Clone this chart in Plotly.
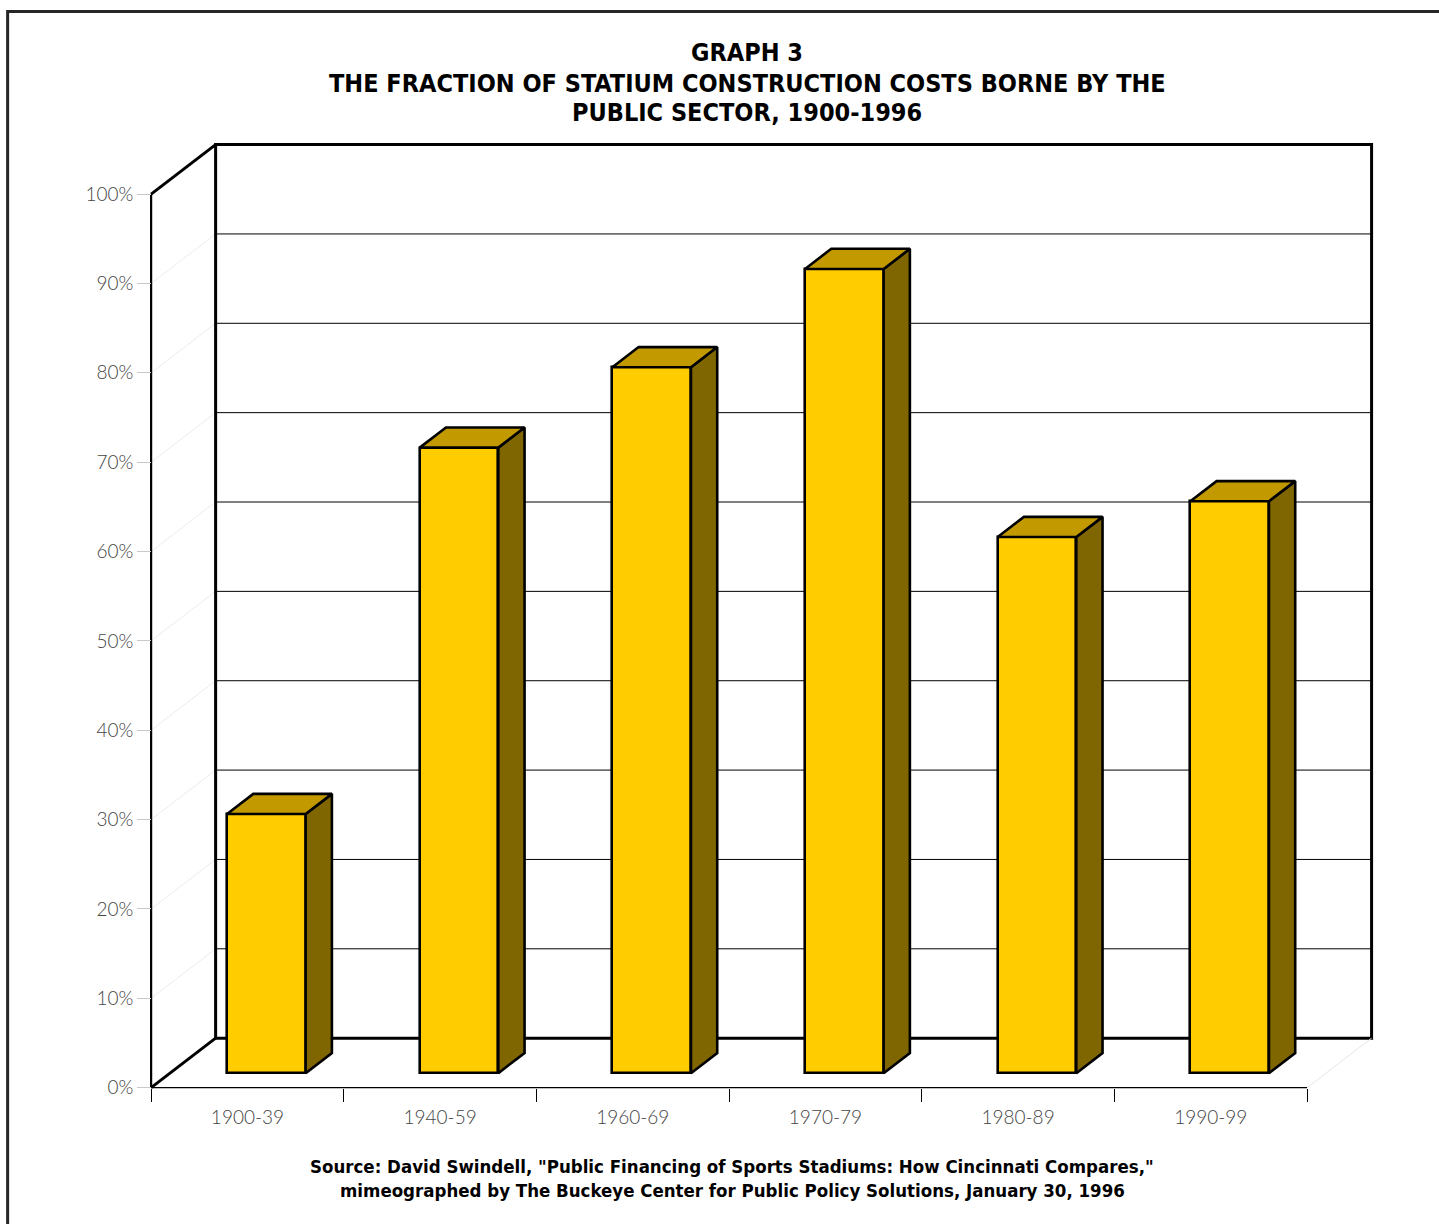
import plotly.graph_objects as go

# ---- data -------------------------------------------------------------
periods = ["1900-39", "1940-59", "1960-69", "1970-79", "1980-89", "1990-99"]
public_share = [29, 70, 79, 90, 60, 64]          # % of stadium cost paid publicly
pct_ticks = list(range(0, 101, 10))
pct_labels = [f"{v}%" for v in pct_ticks]

title_lines = [
    "GRAPH 3",
    "THE FRACTION OF STATIUM CONSTRUCTION COSTS BORNE BY THE",
    "PUBLIC SECTOR, 1900-1996",
]
source_lines = [
    'Source: David Swindell, "Public Financing of Sports Stadiums: How Cincinnati Compares,"',
    "mimeographed by The Buckeye Center for Public Policy Solutions, January 30, 1996",
]

# ---- geometry of the pseudo-3D box -----------------------------------
W, H = 1439, 1224
PX_X = 192.67            # pixels per category slot
PX_Y = 8.935             # pixels per percentage point
ORIGIN_PX = (151.0, 1087.5)   # front-left floor corner
X0, X1 = -0.12, 6.42     # axis ranges (category units / percent)
Y0, Y1 = -2.5, 106.5

DEPTH_X = 64.5 / PX_X    # full box depth expressed in axis units
DEPTH_Y = 49.5 / PX_Y
BAR_W = 0.408            # bar width in category units
BAR_D0, BAR_D1 = 0.293, 0.70   # front / back depth of the bars

ml = ORIGIN_PX[0] + X0 * PX_X
pw = (X1 - X0) * PX_X
mr = W - ml - pw
bottom_px = ORIGIN_PX[1] - Y0 * PX_Y
ph = (Y1 - Y0) * PX_Y
mb = H - bottom_px
mt = bottom_px - ph

n = len(periods)


def proj(x, y, d):
    """Project a point at depth d (0 = front, 1 = back wall)."""
    return x + d * DEPTH_X, y + d * DEPTH_Y


def paper(px, py):
    return (px - ml) / pw, (bottom_px - py) / ph


FRONT = "#FFCC00"
TOP = "#C29A00"
SIDE = "#806600"
OUTLINE = 2.6

shapes = []


def seg(p, q, color="black", width=1.0):
    shapes.append(dict(type="line", xref="x", yref="y", layer="below",
                       x0=p[0], y0=p[1], x1=q[0], y1=q[1],
                       line=dict(color=color, width=width)))


# faint gridlines on the left wall, black gridlines on the back wall
for v in pct_ticks[1:-1]:
    seg(proj(0, v, 0), proj(0, v, 1), "#ececec", 1)
    seg(proj(0, v, 1), proj(n, v, 1), "black", 1)

# back wall frame
bl, tr = proj(0, 0, 1), proj(n, 100, 1)
shapes.append(dict(type="rect", xref="x", yref="y", layer="below",
                   x0=bl[0], y0=bl[1], x1=tr[0], y1=tr[1],
                   line=dict(color="black", width=3), fillcolor="rgba(0,0,0,0)"))
# left wall edges
seg(proj(0, 100, 0), proj(0, 100, 1), "black", 3)
seg(proj(0, 0, 0), proj(0, 0, 1), "black", 3)
seg(proj(0, 0, 0), proj(0, 100, 0), "black", 2.2)
# floor edges
seg(proj(0, 0, 0), proj(n, 0, 0), "black", 1.2)
seg(proj(n, 0, 0), proj(n, 0, 1), "#e6e6e6", 1)

# outer page frame
fx0, fy0 = paper(7.5, 11.5)
fx1, fy1 = paper(1460, 1250)
shapes.append(dict(type="rect", xref="paper", yref="paper", layer="above",
                   x0=fx0, y0=fy1, x1=fx1, y1=fy0,
                   line=dict(color="#262626", width=3)))

fig = go.Figure()

# front faces of the columns
fig.add_trace(go.Bar(
    x=[i + 0.5 + BAR_D0 * DEPTH_X for i in range(n)],
    y=public_share,
    base=BAR_D0 * DEPTH_Y,
    width=BAR_W,
    marker=dict(color=FRONT, line=dict(color="black", width=OUTLINE)),
    customdata=periods,
    hovertemplate="%{customdata}: %{y}%<extra></extra>",
    showlegend=False,
))

# side and top faces
for i, v in enumerate(public_share):
    xl = i + 0.5 - BAR_W / 2
    xr = i + 0.5 + BAR_W / 2
    side = [proj(xr, 0, BAR_D0), proj(xr, v, BAR_D0), proj(xr, v, BAR_D1),
            proj(xr, 0, BAR_D1), proj(xr, 0, BAR_D0)]
    top = [proj(xl, v, BAR_D0), proj(xr, v, BAR_D0), proj(xr, v, BAR_D1),
           proj(xl, v, BAR_D1), proj(xl, v, BAR_D0)]
    for pts, col in ((side, SIDE), (top, TOP)):
        fig.add_trace(go.Scatter(
            x=[p[0] for p in pts], y=[p[1] for p in pts],
            mode="lines", fill="toself", fillcolor=col,
            line=dict(color="black", width=OUTLINE),
            hoverinfo="skip", showlegend=False,
        ))

label_font = dict(family="Lato, 'Open Sans', sans-serif", size=19,
                  color="#444444", weight=300)
bold_font = "'Liberation Sans Narrow', 'DejaVu Sans Condensed', 'Roboto Condensed', sans-serif"

x_axis_pos = paper(0, ORIGIN_PX[1])[1]
y_axis_pos = paper(ORIGIN_PX[0], 0)[0]

annotations = []
# title, one annotation per line for tight spacing
for txt, py in zip(title_lines, (52, 83, 112)):
    ax, ay = paper(747, py)
    annotations.append(dict(
        text=txt, xref="paper", yref="paper", x=ax, y=ay,
        xanchor="center", yanchor="middle", showarrow=False,
        font=dict(family=bold_font, size=25, color="black", weight="bold"),
    ))
for txt, py in zip(source_lines, (1166, 1190)):
    ax, ay = paper(732, py)
    annotations.append(dict(
        text=txt, xref="paper", yref="paper", x=ax, y=ay,
        xanchor="center", yanchor="middle", showarrow=False,
        font=dict(family=bold_font, size=18.5, color="black", weight="bold"),
    ))

fig.update_layout(
    width=W, height=H,
    margin=dict(l=ml, r=mr, t=mt, b=mb, autoexpand=False),
    paper_bgcolor="white", plot_bgcolor="white",
    shapes=shapes,
    bargap=0,
    xaxis=dict(
        range=[X0, X1], anchor="free", position=x_axis_pos,
        tickmode="array", tickvals=[i + 0.5 for i in range(n)], ticktext=periods,
        ticks="outside", ticklen=13, tickcolor="rgba(0,0,0,0)",
        tickfont=label_font,
        minor=dict(tickmode="array", tickvals=list(range(n + 1)),
                   ticks="outside", ticklen=13, tickwidth=1.2, tickcolor="black",
                   showgrid=False),
        showgrid=False, zeroline=False, showline=False, fixedrange=True,
    ),
    yaxis=dict(
        range=[Y0, Y1], anchor="free", position=y_axis_pos,
        tickmode="array", tickvals=pct_ticks, ticktext=pct_labels,
        ticks="outside", ticklen=14, tickwidth=1, tickcolor="#c8c8c8",
        tickfont=label_font,
        showgrid=False, zeroline=False, showline=False, fixedrange=True,
    ),
    annotations=annotations,
)

fig.write_html("out.html")
